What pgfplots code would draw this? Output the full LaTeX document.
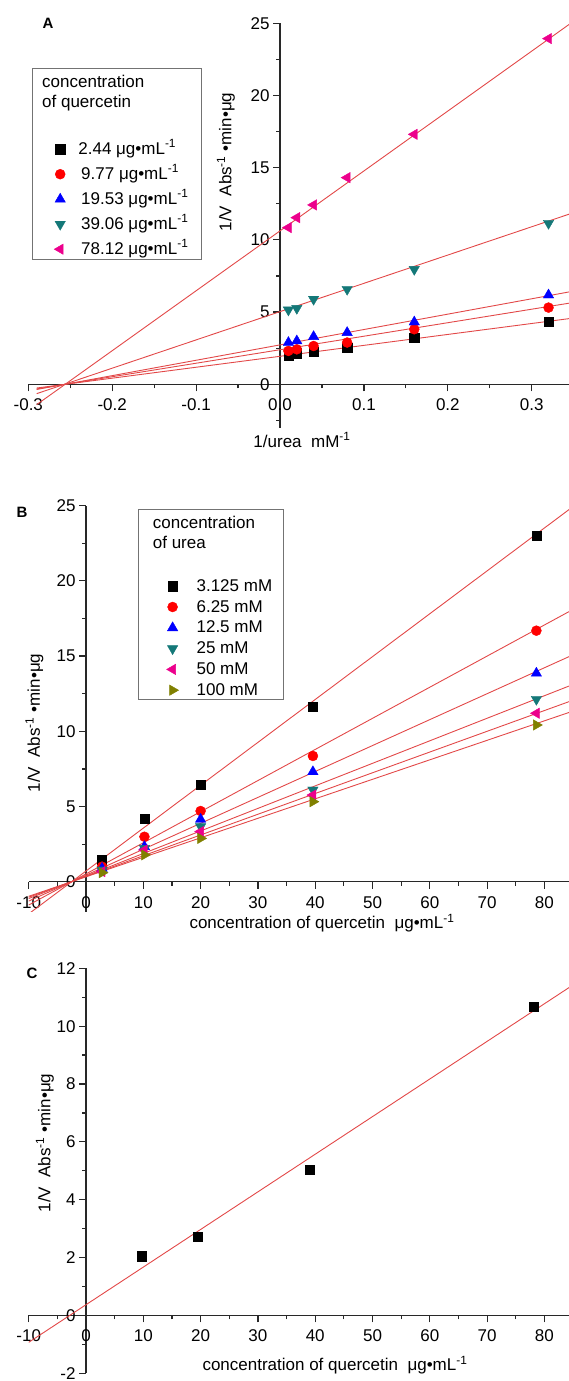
\documentclass[border=0pt]{standalone}
\usepackage{pgfplots}
\pgfplotsset{compat=1.18}
\usepackage{fontspec}
\setmainfont{Liberation Sans}

\definecolor{fitred}{RGB}{226,72,72}
\definecolor{dcyan}{RGB}{20,120,120}
\definecolor{olv}{RGB}{128,128,0}
\definecolor{axgray}{RGB}{40,40,40}

\newcommand{\txt}{\fontsize{17}{20}\selectfont}
\newcommand{\ugml}{μg•mL\textsuperscript{-1}}

\pgfplotsset{
  panel/.style={
    scale only axis, anchor=south west,
    axis lines=middle,
    axis line style={-, line width=1.2pt, axgray},
    tick align=outside,
    major tick length=7pt, minor tick length=4pt,
    every tick/.style={line width=1.2pt, axgray},
    hide obscured x ticks=false, hide obscured y ticks=false,
    tick label style={font=\txt},
    xticklabel style={yshift=-4pt},
    legend cell align=left,
  },
  leg/.style={anchor=north west, draw=none, fill=none, font=\txt,
    inner sep=0pt, nodes={inner sep=0pt, text height=14pt, text depth=4pt}},
  fit/.style={fitred, line width=0.9pt, no marks, forget plot},
  sq/.style={only marks, mark=square*, mark size=4.6pt, black, mark options={solid, fill=black}},
  ci/.style={only marks, mark=*, mark size=5pt, red, mark options={solid, fill=red}},
  tu/.style={only marks, mark=triangle*, mark size=6pt, blue, mark options={solid, fill=blue}},
  td/.style={only marks, mark=triangle*, mark size=6pt, dcyan, mark options={solid, fill=dcyan, rotate=180}},
  tl/.style={only marks, mark=triangle*, mark size=6pt, magenta, mark options={solid, fill=magenta, rotate=90}},
  tr/.style={only marks, mark=triangle*, mark size=6pt, olv, mark options={solid, fill=olv, rotate=-90}},
}

\begin{document}
\begin{tikzpicture}[x=1pt,y=1pt]
\path[use as bounding box] (0,0) rectangle (569,1381);

% legend frames and titles
\draw[black!55, line width=1pt] (32,1312) rectangle (201.4,1121);
\node[font=\txt, anchor=base west, inner sep=0pt] at (42,1293) {concentration};
\node[font=\txt, anchor=base west, inner sep=0pt] at (42,1273) {of quercetin};
\draw[black!55, line width=1pt] (138,871) rectangle (283.7,681.7);
\node[font=\txt, anchor=base west, inner sep=0pt] at (152.7,852) {concentration};
\node[font=\txt, anchor=base west, inner sep=0pt] at (152.7,832) {of urea};

% ---------------- panel A ----------------
\begin{axis}[panel, at={(28.3pt,953.4pt)}, width=541.2pt, height=404.3pt,
  xmin=-0.3, xmax=0.345, ymin=-3, ymax=25,
  xtick={-0.3,-0.2,-0.1,0,0.1,0.2,0.3},
  xticklabels={-0.3,-0.2,-0.1,0.0,0.1,0.2,0.3},
  minor xtick={-0.25,-0.15,-0.05,0.05,0.15,0.25},
  ytick={0,5,10,15,20,25}, yticklabels={0,5,10,15,20,25},
  minor ytick={-2.5,2.5,7.5,12.5,17.5,22.5},
  legend style={leg, at={(axis description cs:0.0475,0.7113)}, row sep=7pt,
    /tikz/every odd column/.append style={column sep=13pt}},
]
\addplot[fit] coordinates {(-0.29,-0.26) (0.345,4.55)};
\addplot[fit] coordinates {(-0.29,-0.32) (0.345,5.62)};
\addplot[fit] coordinates {(-0.29,-0.36) (0.345,6.40)};
\addplot[fit] coordinates {(-0.29,-0.65) (0.345,11.79)};
\addplot[fit] coordinates {(-0.29,-1.41) (0.345,24.94)};
\addplot[sq] coordinates {(0.01,2.01) (0.02,2.15) (0.04,2.24) (0.08,2.54) (0.16,3.23) (0.32,4.34)};
\addlegendentry{2.44 \ugml}
\addplot[ci] coordinates {(0.01,2.31) (0.02,2.42) (0.04,2.65) (0.08,2.89) (0.16,3.81) (0.32,5.31)};
\addlegendentry{\,9.77 \ugml}
\addplot[tu] coordinates {(0.01,2.89) (0.02,3.00) (0.04,3.30) (0.08,3.58) (0.16,4.31) (0.32,6.18)};
\addlegendentry{\,19.53 \ugml}
\addplot[td] coordinates {(0.01,5.15) (0.02,5.26) (0.04,5.89) (0.08,6.58) (0.16,7.96) (0.32,11.15)};
\addlegendentry{\,39.06 \ugml}
\addplot[tl] coordinates {(0.01,10.85) (0.02,11.54) (0.04,12.42) (0.08,14.31) (0.16,17.31) (0.32,23.94)};
\addlegendentry{\,78.12 \ugml}
\end{axis}

% ---------------- panel B ----------------
\begin{axis}[panel, at={(28.7pt,469.2pt)}, width=541.5pt, height=406.1pt,
  xmin=-10, xmax=84.5, ymin=-2, ymax=25,
  xtick={-10,0,10,20,30,40,50,60,70,80},
  xticklabels={-10,0,10,20,30,40,50,60,70,80},
  minor xtick={-5,5,15,25,35,45,55,65,75},
  ytick={0,5,10,15,20,25}, yticklabels={0,5,10,15,20,25},
  minor ytick={2.5,7.5,12.5,17.5,22.5},
  legend style={leg, at={(axis description cs:0.2543,0.8244)}, row sep=2.8pt,
    /tikz/every odd column/.append style={column sep=18pt}},
]
\addplot[fit] coordinates {(-10,-2.14) (84.5,24.8)};
\addplot[fit] coordinates {(-10,-1.55) (84.5,18.0)};
\addplot[fit] coordinates {(-10,-1.29) (84.5,15.0)};
\addplot[fit] coordinates {(-10,-1.12) (84.5,13.04)};
\addplot[fit] coordinates {(-10,-1.03) (84.5,12.0)};
\addplot[fit] coordinates {(-10,-0.97) (84.5,11.28)};
\addplot[sq] coordinates {(2.8,1.44) (10.2,4.21) (20.0,6.43) (39.6,11.64) (78.6,23.0)};
\addlegendentry{3.125 mM}
\addplot[ci] coordinates {(2.8,1.00) (10.2,2.99) (20.0,4.70) (39.6,8.36) (78.6,16.69)};
\addlegendentry{6.25 mM}
\addplot[tu] coordinates {(2.8,0.89) (10.2,2.33) (20.0,4.15) (39.6,7.31) (78.6,13.86)};
\addlegendentry{12.5 mM}
\addplot[td] coordinates {(2.8,0.78) (10.2,2.22) (20.0,3.66) (39.6,6.10) (78.6,12.13)};
\addlegendentry{25 mM}
\addplot[tl] coordinates {(2.8,0.67) (10.2,2.11) (20.0,3.33) (39.6,5.76) (78.6,11.2)};
\addlegendentry{50 mM}
\addplot[tr] coordinates {(2.8,0.60) (10.2,1.78) (20.0,2.88) (39.6,5.32) (78.6,10.42)};
\addlegendentry{100 mM}
\end{axis}

% ---------------- panel C ----------------
\begin{axis}[panel, at={(28.7pt,7.7pt)}, width=541.5pt, height=405pt,
  xmin=-10, xmax=84.5, ymin=-2, ymax=12,
  xtick={-10,0,10,20,30,40,50,60,70,80},
  xticklabels={-10,0,10,20,30,40,50,60,70,80},
  minor xtick={-5,5,15,25,35,45,55,65,75},
  ytick={-2,0,2,4,6,8,10,12}, yticklabels={-2,0,2,4,6,8,10,12},
  minor ytick={-1,1,3,5,7,9,11},
]
\addplot[fit] coordinates {(-10,-0.93) (84.5,11.36)};
\addplot[sq] coordinates {(9.77,2.05) (19.53,2.73) (39.06,5.03) (78.12,10.67)};
\end{axis}

% ---------------- labels ----------------
\node[font=\bfseries\fontsize{15}{18}\selectfont] at (48,1358) {A};
\node[font=\bfseries\fontsize{15}{18}\selectfont] at (22,869) {B};
\node[font=\bfseries\fontsize{15}{18}\selectfont] at (32,408) {C};
\node[font=\txt, rotate=90] at (226,1219) {1/V~~Abs\textsuperscript{-1} •min•μg};
\node[font=\txt] at (302,941) {1/urea~~mM\textsuperscript{-1}};
\node[font=\txt, rotate=90] at (34.5,658) {1/V~~Abs\textsuperscript{-1} •min•μg};
\node[font=\txt] at (322,458) {concentration of quercetin~~\ugml};
\node[font=\txt, rotate=90] at (45,238) {1/V~~Abs\textsuperscript{-1} •min•μg};
\node[font=\txt] at (335,16) {concentration of quercetin~~\ugml};
\end{tikzpicture}
\end{document}
